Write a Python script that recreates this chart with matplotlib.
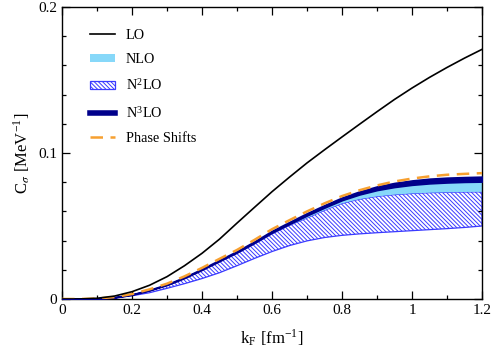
import matplotlib
matplotlib.use("Agg")
import matplotlib.pyplot as plt
from matplotlib.lines import Line2D
from matplotlib.patches import Patch
from matplotlib.ticker import MultipleLocator

plt.rcParams['font.family'] = ['Liberation Serif', 'DejaVu Serif']
plt.rcParams['mathtext.fontset'] = 'stix'
plt.rcParams['hatch.linewidth'] = 0.7

# Fermi momentum grid [fm^-1]
kf = [0.00, 0.05, 0.10, 0.15, 0.20, 0.25, 0.30, 0.35, 0.40, 0.45, 0.50, 0.55,
      0.60, 0.65, 0.70, 0.75, 0.80, 0.85, 0.90, 0.95, 1.00, 1.05, 1.10, 1.15, 1.20]

lo = [0, 0, 0.0005, 0.0020, 0.0050, 0.0094, 0.0153, 0.0228, 0.0313, 0.0410, 0.0520, 0.0628,
      0.0735, 0.0835, 0.0932, 0.1022, 0.1110, 0.1197, 0.1283, 0.1367, 0.1445, 0.1518,
      0.1586, 0.1650, 0.1710]

phase_shifts = [0, 0, 0.0003, 0.0013, 0.0034, 0.0066, 0.0105, 0.0155, 0.0213, 0.0275, 0.0336,
                0.0405, 0.0478, 0.0540, 0.0600, 0.0655, 0.0705, 0.0745, 0.0778, 0.0805,
                0.0825, 0.0840, 0.0851, 0.0857, 0.0862]

n3lo_hi = [0, 0, 0.0003, 0.0012, 0.0032, 0.0063, 0.0101, 0.0150, 0.0207, 0.0268, 0.0328,
           0.0395, 0.0467, 0.0528, 0.0588, 0.0643, 0.0695, 0.0737, 0.0771, 0.0795,
           0.0812, 0.0824, 0.0831, 0.0835, 0.0838]
n3lo_lo = [0, 0, 0.0002, 0.0010, 0.0029, 0.0059, 0.0096, 0.0144, 0.0200, 0.0260, 0.0319,
           0.0385, 0.0455, 0.0514, 0.0572, 0.0626, 0.0677, 0.0716, 0.0746, 0.0767,
           0.0782, 0.0792, 0.0798, 0.0802, 0.0804]

nlo_hi = [0, 0, 0.0003, 0.0012, 0.0031, 0.0061, 0.0099, 0.0147, 0.0204, 0.0264, 0.0324,
          0.0390, 0.0461, 0.0521, 0.0580, 0.0634, 0.0684, 0.0724, 0.0757, 0.0781,
          0.0797, 0.0808, 0.0815, 0.0819, 0.0821]
nlo_lo = [0, 0, 0.0002, 0.0009, 0.0028, 0.0057, 0.0093, 0.0140, 0.0196, 0.0255, 0.0313,
          0.0377, 0.0446, 0.0505, 0.0555, 0.0608, 0.0655, 0.0684, 0.0703, 0.0715,
          0.0723, 0.0728, 0.0731, 0.0733, 0.0734]

n2lo_hi = nlo_lo
n2lo_lo = [0, 0, 0.0002, 0.0009, 0.0022, 0.0043, 0.0073, 0.0105, 0.0140, 0.0180, 0.0228,
           0.0278, 0.0325, 0.0366, 0.0398, 0.0421, 0.0436, 0.0446, 0.0454, 0.0461,
           0.0468, 0.0475, 0.0482, 0.0490, 0.0500]

light_blue = '#87d8f9'
navy = '#00008b'
hatch_blue = '#3a3aff'
orange = '#f7a030'
hatch = '\\' * 8

fig = plt.figure(figsize=(4.91, 3.49), dpi=100)
ax = fig.add_axes([0.1263, 0.1433, 0.8554, 0.8366])

ax.fill_between(kf, n2lo_lo, n2lo_hi, facecolor='none', edgecolor=hatch_blue,
                hatch=hatch, linewidth=0.9, zorder=1)
ax.fill_between(kf, nlo_lo, nlo_hi, facecolor=light_blue, edgecolor='none', zorder=2)
ax.fill_between(kf, n3lo_lo, n3lo_hi, facecolor=navy, edgecolor=navy,
                linewidth=1.2, zorder=3)
ax.plot(kf, phase_shifts, color=orange, lw=1.8, dashes=(5, 3), zorder=4)
ax.plot(kf, lo, color='black', lw=1.2, zorder=5)

ax.set_xlim(0, 1.2)
ax.set_ylim(0, 0.2)
ax.xaxis.set_minor_locator(MultipleLocator(0.1))
ax.yaxis.set_minor_locator(MultipleLocator(0.02))
ax.set_xticks([0, 0.2, 0.4, 0.6, 0.8, 1.0, 1.2])
ax.set_xticklabels(['0', '0.2', '0.4', '0.6', '0.8', '1', '1.2'])
ax.set_yticks([0, 0.1, 0.2])
ax.set_yticklabels(['0', '0.1', '0.2'])
ax.tick_params(which='both', direction='in', top=True, right=True, labelsize=11, width=0.9)
ax.tick_params(which='major', length=6)
ax.tick_params(which='minor', length=3)
for s in ax.spines.values():
    s.set_linewidth(1.0)

ax.set_xlabel(r'k$_\mathregular{F}$ [fm$^{\mathregular{-1}}$]', fontsize=12, labelpad=8)
ax.set_ylabel(r'C$_\sigma$ [MeV$^{\mathregular{-1}}$]', fontsize=12, labelpad=4)

handles = [
    Line2D([], [], color='black', lw=1.2),
    Patch(facecolor=light_blue, edgecolor='none'),
    Patch(facecolor='white', edgecolor=hatch_blue, hatch=hatch, linewidth=0.9),
    Line2D([], [], color=navy, lw=4),
    Line2D([], [], color=orange, lw=1.8, dashes=(5, 3)),
]
labels = ['LO', 'NLO', r'N$^\mathregular{2}$LO', r'N$^\mathregular{3}$LO', 'Phase Shifts']
ax.legend(handles, labels, loc='upper left', bbox_to_anchor=(0.035, 0.97), frameon=False,
          fontsize=10.3, handlelength=1.75, handleheight=0.5, labelspacing=0.8,
          handletextpad=0.8)

fig.savefig('out.png', dpi=100)
